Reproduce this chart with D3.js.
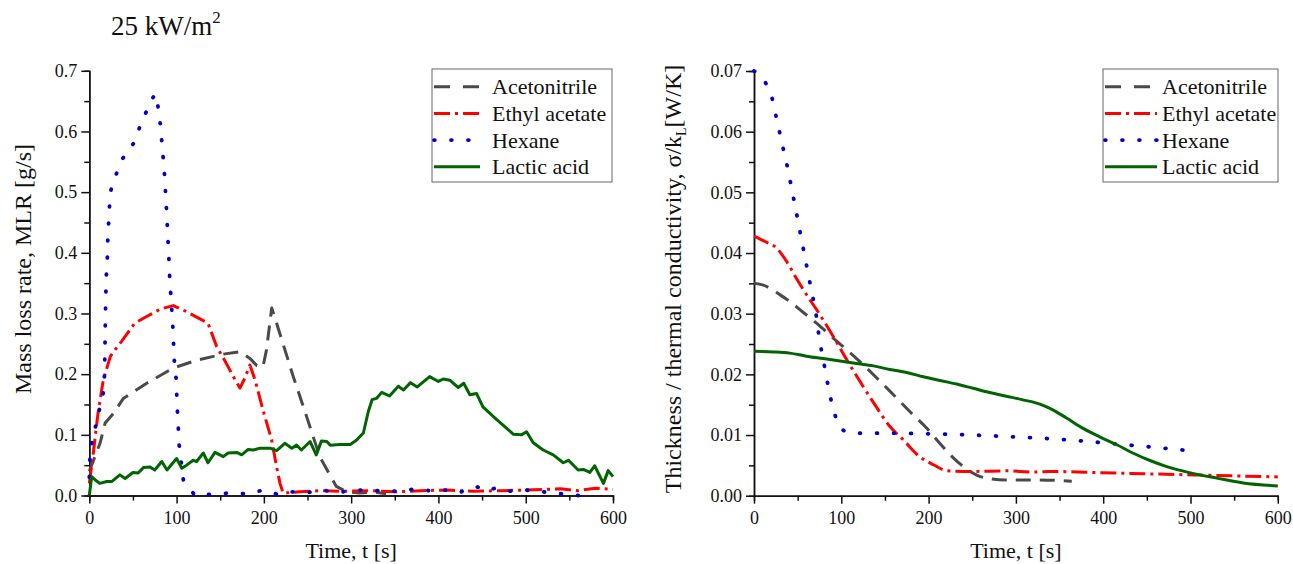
<!DOCTYPE html>
<html>
<head>
<meta charset="utf-8">
<script src="https://cdn.jsdelivr.net/npm/d3@7"></script>
<style>
  body { margin: 0; background: #fff; }
  svg { display: block; }
  text { font-family: "Liberation Serif", "Times New Roman", serif; fill: #111; }
</style>
</head>
<body>
<svg id="chart" width="1293" height="564"></svg>
<script>
// values, as [time s, value]
var seriesNames = ["Acetonitrile", "Ethyl acetate", "Hexane", "Lactic acid"];
var timeTicks = [0, 100, 200, 300, 400, 500, 600];
var mlrTicks = [0, 0.1, 0.2, 0.3, 0.4, 0.5, 0.6, 0.7];
var condTicks = [0, 0.01, 0.02, 0.03, 0.04, 0.05, 0.06, 0.07];

// left panel: mass loss rate [g/s]
var mlrAcetonitrile = [[0,0.04],[2.7,0.05],[12.3,0.086],[18,0.119],[27.5,0.135],[39,0.16],[65.7,0.185],[96,0.21],[123,0.223],[153.5,0.233],[172.6,0.237],[184,0.226],[192,0.214],[199,0.212],[203,0.24],[209,0.309],[214.6,0.284],[233.7,0.196],[249,0.13],[264,0.064],[283,0.015],[295,0.006],[310,0.004],[325,0.006],[340,0.003]];
var mlrEthylAcetate = [[0,0.02],[4.6,0.07],[10,0.136],[16,0.19],[24,0.229],[29.4,0.24],[37,0.254],[52,0.284],[65.7,0.295],[81,0.307],[96,0.313],[111.5,0.303],[123,0.294],[136,0.284],[146,0.245],[155,0.223],[165,0.196],[172.6,0.177],[178,0.193],[184,0.215],[190,0.19],[199,0.141],[209,0.091],[214.6,0.047],[218.5,0.02],[222,0.004],[241,0.006],[264,0.008],[290,0.007],[320,0.008],[350,0.006],[380,0.008],[410,0.009],[440,0.007],[470,0.008],[500,0.009],[520,0.01],[540,0.011],[560,0.008],[580,0.012],[600,0.01]];
var mlrHexane = [[0,0.03],[1,0.075],[16,0.17],[17.5,0.2],[18.5,0.3],[19.3,0.358],[20.6,0.387],[21,0.416],[22,0.445],[23,0.474],[24.5,0.502],[31,0.53],[38,0.555],[51,0.581],[58,0.608],[66,0.635],[73,0.656],[76,0.662],[80,0.631],[82,0.602],[83.6,0.573],[85.5,0.544],[86.7,0.516],[87.8,0.487],[89,0.458],[89.8,0.429],[91,0.4],[91.6,0.372],[92.8,0.343],[95.5,0.284],[97.4,0.223],[99.3,0.196],[101,0.138],[103,0.083],[107.7,0.026],[121,0],[140,0.002],[160,0.004],[180,0.003],[200,0.009],[215,0.002],[230,0.006],[250,0.005],[270,0.008],[290,0.006],[310,0.009],[330,0.008],[350,0.007],[370,0.01],[390,0.008],[410,0.009],[425,0.005],[435,0.013],[445,0.014],[455,0.008],[465,0.012],[480,0.007],[500,0.009],[520,0.006],[540,0.003],[560,0]];
var mlrLacticAcid = [[0,0],[2.7,0.031],[6.5,0.026],[12,0.02],[20,0.023],[25.6,0.023],[35,0.034],[41,0.028],[50,0.038],[56,0.037],[62,0.046],[69.5,0.047],[75,0.042],[83,0.056],[89,0.042],[100,0.061],[106,0.045],[111.5,0.05],[119,0.058],[123,0.056],[130.6,0.07],[136,0.054],[144,0.071],[153.5,0.064],[159,0.07],[169,0.071],[174.6,0.067],[182,0.076],[188,0.075],[195.5,0.078],[207,0.078],[214.6,0.074],[224,0.086],[232,0.078],[237.5,0.083],[243,0.075],[253,0.089],[260,0.067],[266,0.09],[272,0.089],[276,0.083],[287,0.084],[299,0.084],[306,0.091],[314,0.103],[319.6,0.138],[324,0.158],[329,0.16],[335,0.17],[344,0.164],[354,0.18],[360,0.174],[368,0.186],[375.7,0.179],[390,0.196],[400,0.188],[405.5,0.192],[413,0.19],[422.7,0.178],[429,0.185],[436,0.166],[443.7,0.168],[451,0.146],[463,0.13],[474,0.116],[485.7,0.101],[495,0.1],[501,0.105],[508.6,0.087],[520,0.075],[531.5,0.067],[543,0.054],[549,0.058],[560,0.042],[566,0.043],[573.5,0.038],[579,0.049],[589,0.02],[594.5,0.041],[600,0.031]];

// right panel: thickness / thermal conductivity [W/K]
var condAcetonitrile = [[0,0.035],[10.7,0.0347],[30,0.0331],[41,0.032],[56.6,0.0302],[72,0.0284],[89,0.0262],[106.5,0.024],[123.5,0.0218],[140.7,0.0194],[160,0.0166],[179,0.0138],[198,0.0111],[213,0.0086],[228.6,0.0062],[247.6,0.004],[263,0.003],[289,0.0026],[321.5,0.0026],[364,0.0024]];
var condEthylAcetate = [[0,0.0428],[12.6,0.0419],[26,0.0408],[37.4,0.0386],[49,0.0357],[64,0.0323],[72,0.0306],[93,0.0257],[110,0.0215],[125,0.018],[138.5,0.015],[155.7,0.0114],[171,0.0092],[190,0.0064],[205.6,0.0051],[221,0.0041],[251,0.004],[289,0.0041],[320,0.0039],[339,0.004],[396,0.0038],[453,0.0036],[511,0.0034],[600,0.0031]];
var condHexane = [[0,0.07],[14.5,0.0677],[22,0.0648],[26,0.062],[30.5,0.0592],[34.7,0.0564],[39.3,0.0535],[43,0.0507],[47,0.0478],[50.8,0.045],[54.6,0.0421],[58.4,0.0393],[62.2,0.0365],[66,0.0336],[70,0.0309],[75.6,0.0252],[79.4,0.0224],[83.3,0.0193],[87,0.0166],[92,0.0137],[98.5,0.0114],[105,0.0106],[117.6,0.0103],[160,0.0103],[200,0.0102],[250,0.01],[297,0.0097],[338,0.0094],[378,0.009],[417,0.0085],[457,0.008],[500,0.0074]];
var condLacticAcid = [[0,0.0238],[22,0.0237],[41,0.0235],[60,0.023],[79.4,0.0226],[98.5,0.0222],[117.6,0.0218],[136.7,0.0214],[155.7,0.0208],[175,0.0203],[194,0.0196],[213,0.019],[232,0.0184],[251,0.0177],[270,0.017],[289,0.0164],[308,0.0158],[327.5,0.0151],[339,0.0144],[358,0.0128],[377,0.0111],[396,0.0097],[415.6,0.0084],[434.5,0.007],[453.6,0.0058],[472.7,0.0048],[499,0.0038],[530,0.0029],[560.5,0.0021],[600,0.0016]];

var styles = [
  { color: "#4a4a4a", dash: "15,9", legendDash: "16,13", width: 3, cap: "butt" },
  { color: "#ff0000", dash: "16,5,3,5", width: 3, cap: "butt" },
  { color: "#0000cc", dash: "0.8,16.2", width: 3.8, cap: "round" },
  { color: "#006400", dash: null, width: 3, cap: "butt" }
];

var svg = d3.select("#chart");

// heat flux title
var title = svg.append("text").attr("x", 111).attr("y", 35).style("font-size", "27px");
title.append("tspan").text("25 kW/m");
title.append("tspan").attr("dy", -12).style("font-size", "17px").text("2");

function drawPanel(p) {
  var xScale = d3.scaleLinear().domain([0, 600]).range([p.left, p.right]);
  var yScale = d3.scaleLinear().domain([0, p.yMax]).range([p.bottom, p.top]);
  var g = svg.append("g");

  // minor ticks first
  g.append("g").attr("transform", "translate(0," + p.bottom + ")")
    .call(d3.axisBottom(xScale).tickValues(d3.range(50, 600, 100)).tickSize(5).tickFormat(""));
  g.append("g").attr("transform", "translate(" + p.left + ",0)")
    .call(d3.axisLeft(yScale).tickValues(p.yTicks.slice(0, -1).map(function(d) { return d + p.yMax / 14; })).tickSize(5).tickFormat(""));

  g.append("g").attr("transform", "translate(0," + p.bottom + ")")
    .call(d3.axisBottom(xScale).tickValues(timeTicks).tickSize(8).tickSizeOuter(0).tickPadding(8).tickFormat(d3.format("d")));
  g.append("g").attr("transform", "translate(" + p.left + ",0)")
    .call(d3.axisLeft(yScale).tickValues(p.yTicks).tickSize(8).tickSizeOuter(0).tickPadding(4).tickFormat(d3.format(p.fmt)));

  g.selectAll(".domain, .tick line").attr("stroke", "#111").attr("stroke-width", 1.5);
  g.selectAll(".tick text").style("font-size", "18px").style("font-family", "Liberation Serif, serif").attr("fill", "#111");

  // series lines
  var line = d3.line()
    .x(function(d) { return xScale(d[0]); })
    .y(function(d) { return yScale(d[1]); })
    .curve(p.curve);

  p.series.forEach(function(data, i) {
    var s = styles[i];
    g.append("path")
      .datum(data)
      .attr("d", line)
      .attr("fill", "none")
      .attr("stroke", s.color)
      .attr("stroke-width", s.width)
      .attr("stroke-linecap", s.cap)
      .attr("stroke-linejoin", "round")
      .attr("stroke-dasharray", s.dash);
  });

  // axis titles
  g.append("text")
    .attr("x", (p.left + p.right) / 2).attr("y", 558)
    .attr("text-anchor", "middle").style("font-size", "22px")
    .text("Time, t [s]");

  var yl = g.append("text")
    .attr("transform", "translate(" + p.yLabelX + "," + p.yLabelY + ") rotate(-90)")
    .attr("text-anchor", "middle").style("font-size", "24px");
  p.yLabel(yl);

  // legend
  var lg = g.append("g").attr("transform", "translate(" + p.legendX + "," + p.legendY + ")");
  lg.append("rect").attr("width", p.legendW).attr("height", 113)
    .attr("fill", "#fff").attr("stroke", "#666").attr("stroke-width", 1);
  seriesNames.forEach(function(name, i) {
    var s = styles[i];
    var cy = 17.7 + i * 26.7;
    lg.append("line")
      .attr("x1", 2).attr("x2", 2 + p.sampleW).attr("y1", cy).attr("y2", cy)
      .attr("stroke", s.color).attr("stroke-width", s.width)
      .attr("stroke-linecap", s.cap).attr("stroke-dasharray", s.legendDash || s.dash);
    lg.append("text").attr("x", p.textX).attr("y", cy + 7.5)
      .style("font-size", "22px").text(name);
  });
}

drawPanel({
  left: 89.3, right: 613, top: 70.8, bottom: 495.5,
  yMax: 0.7, yTicks: mlrTicks, fmt: ".1f",
  curve: d3.curveLinear,
  series: [mlrAcetonitrile, mlrEthylAcetate, mlrHexane, mlrLacticAcid],
  yLabelX: 31, yLabelY: 269,
  yLabel: function(t) { t.text("Mass loss rate, MLR [g/s]"); },
  legendX: 432, legendY: 69, legendW: 180, sampleW: 46, textX: 60
});

drawPanel({
  left: 754, right: 1277.8, top: 71, bottom: 495.7,
  yMax: 0.07, yTicks: condTicks, fmt: ".2f",
  curve: d3.curveMonotoneX,
  series: [condAcetonitrile, condEthylAcetate, condHexane, condLacticAcid],
  yLabelX: 681, yLabelY: 279,
  yLabel: function(t) {
    t.append("tspan").text("Thickness / thermal conductivity, \u03c3/k");
    t.append("tspan").attr("dy", 5).style("font-size", "14px").text("L");
    t.append("tspan").attr("dy", -5).text("[W/K]");
  },
  legendX: 1103, legendY: 69, legendW: 175, sampleW: 52, textX: 59
});
</script>
</body>
</html>
